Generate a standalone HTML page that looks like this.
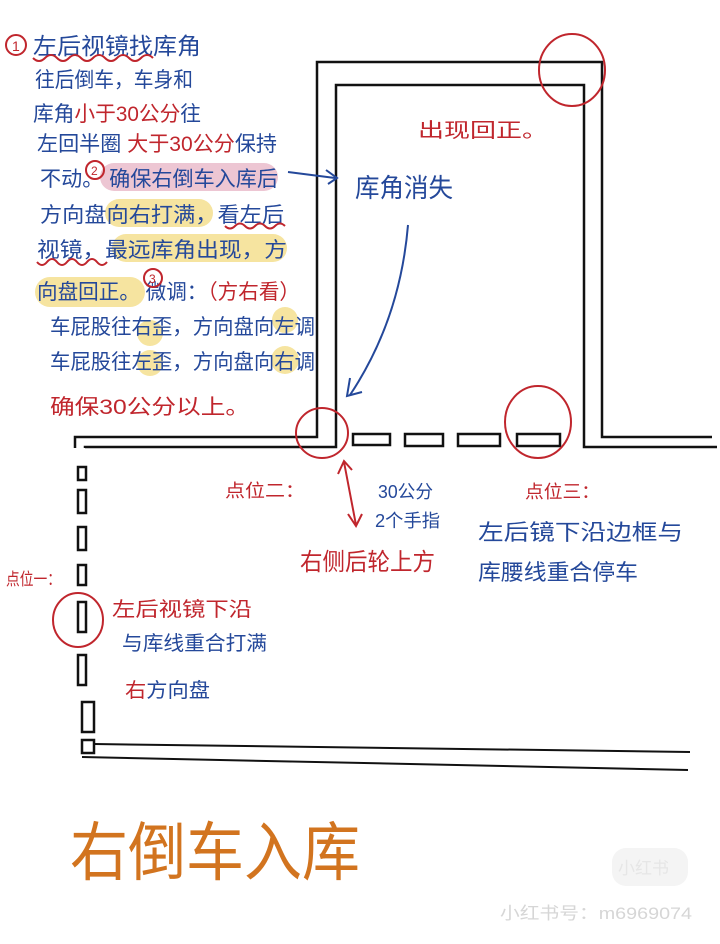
<!DOCTYPE html>
<html><head><meta charset="utf-8"><style>
html,body{margin:0;padding:0;background:#fff;width:720px;height:944px;overflow:hidden}
svg{display:block}
text{font-family:"Liberation Sans","Noto Sans CJK SC",sans-serif}
.b{fill:#24489a}.r{fill:#c0262d}
</style></head><body>
<svg width="720" height="944" viewBox="0 0 720 944" xmlns="http://www.w3.org/2000/svg">
<!-- highlights -->
<rect x="100" y="163" width="178" height="28" rx="14" fill="#e8b8c8" opacity="0.8"/>
<rect x="105" y="199" width="108" height="28" rx="14" fill="#f6e4a0"/>
<rect x="112" y="234" width="175" height="28" rx="14" fill="#f6e4a0"/>
<rect x="35" y="277" width="110" height="30" rx="15" fill="#f6e4a0"/>
<circle cx="150" cy="333" r="13" fill="#f6e4a0"/>
<circle cx="150" cy="363" r="13" fill="#f6e4a0"/>
<circle cx="285" cy="320" r="13" fill="#f6e4a0"/>
<circle cx="285" cy="360" r="14" fill="#f6e4a0"/>
<!-- left text block -->
<circle cx="16" cy="45" r="10" fill="none" stroke="#c0262d" stroke-width="2"/>
<text x="12" y="51" font-size="14" class="r">1</text>
<text x="33" y="54" font-size="23" textLength="168" lengthAdjust="spacingAndGlyphs" class="b">左后视镜找库角</text>
<path d="M33 58 q6 6 12 0 t12 0 t12 0 t12 0 t12 0 t12 0 t12 0 t12 0 t12 0 t12 0" fill="none" stroke="#c0262d" stroke-width="2"/>
<text x="35" y="87" font-size="21" textLength="158" lengthAdjust="spacingAndGlyphs" class="b">往后倒车，车身和</text>
<text x="33" y="121" font-size="21" class="b" textLength="168" lengthAdjust="spacingAndGlyphs">库角<tspan class="r">小于30公分</tspan>往</text>
<text x="37" y="151" font-size="21" class="b" textLength="240" lengthAdjust="spacingAndGlyphs">左回半圈 <tspan class="r">大于30公分</tspan>保持</text>
<text x="40" y="186" font-size="21" class="b" textLength="238" lengthAdjust="spacingAndGlyphs">不动。 确保右倒车入库后</text>
<circle cx="95" cy="170" r="9" fill="none" stroke="#c0262d" stroke-width="2"/>
<text x="91" y="175" font-size="12" class="r">2</text>
<text x="40" y="222" font-size="21" class="b" textLength="244" lengthAdjust="spacingAndGlyphs">方向盘向右打满，看左后</text>
<path d="M225 226 q5 5 10 0 t10 0 t10 0 t10 0 t10 0 t10 0" fill="none" stroke="#c0262d" stroke-width="2"/>
<text x="37" y="257" font-size="21" class="b" textLength="250" lengthAdjust="spacingAndGlyphs">视镜，最远库角出现，方</text>
<path d="M37 262 q5 6 10 0 t10 0 t10 0 t10 0 t10 0 t10 0 t10 0" fill="none" stroke="#c0262d" stroke-width="2"/>
<text x="37" y="299" font-size="21" class="b" textLength="263" lengthAdjust="spacingAndGlyphs">向盘回正。 微调：<tspan class="r">（方右看）</tspan></text>
<circle cx="153" cy="278" r="9" fill="none" stroke="#c0262d" stroke-width="2"/>
<text x="149" y="283" font-size="12" class="r">3</text>
<text x="50" y="334" font-size="21" class="b" textLength="265" lengthAdjust="spacingAndGlyphs">车屁股往右歪，方向盘向左调</text>
<text x="50" y="369" font-size="21" class="b" textLength="265" lengthAdjust="spacingAndGlyphs">车屁股往左歪，方向盘向右调</text>
<text x="50" y="414" font-size="21" class="r" textLength="200" lengthAdjust="spacingAndGlyphs">确保30公分以上。</text>
<!-- garage -->
<g fill="none" stroke="#111" stroke-width="2.5">
<path d="M75 448 L75 437 L317 437 L317 62 L602 62 L602 437 L712 437"/>
<path d="M85 448 L85 447 L336 447 L336 85 L584 85 L584 447 L717 447"/>
<rect x="353" y="434" width="37" height="11"/>
<rect x="405" y="434" width="38" height="12"/>
<rect x="458" y="434" width="42" height="12"/>
<rect x="517" y="434" width="43" height="12"/>
<rect x="78" y="467" width="8" height="13"/>
<rect x="78" y="490" width="8" height="23"/>
<rect x="78" y="527" width="8" height="23"/>
<rect x="78" y="565" width="8" height="20"/>
<rect x="78" y="602" width="8" height="30"/>
<rect x="78" y="655" width="8" height="30"/>
<rect x="82" y="702" width="12" height="30"/>
<rect x="82" y="740" width="12" height="13"/>
<path d="M94 744 L690 752" stroke-width="2"/>
<path d="M82 757 L688 770" stroke-width="2"/>
</g>
<!-- circles -->
<g fill="none" stroke="#c0262d" stroke-width="2">
<ellipse cx="572" cy="70" rx="33" ry="36"/>
<ellipse cx="322" cy="433" rx="26" ry="25"/>
<ellipse cx="538" cy="422" rx="33" ry="36"/>
<ellipse cx="78" cy="620" rx="25" ry="27"/>
</g>
<!-- right labels -->
<text x="418" y="137" font-size="20" class="r" textLength="130" lengthAdjust="spacingAndGlyphs">出现回正。</text>
<path d="M288 172 L335 178" stroke="#24489a" stroke-width="2" fill="none"/>
<path d="M326 170 L337 178 L328 184" stroke="#24489a" stroke-width="2" fill="none"/>
<text x="355" y="197" font-size="26" class="b" textLength="98" lengthAdjust="spacingAndGlyphs">库角消失</text>
<path d="M408 225 Q400 320 350 395" stroke="#24489a" stroke-width="2" fill="none"/>
<path d="M350 378 L347 396 L362 392" stroke="#24489a" stroke-width="2" fill="none"/>
<text x="225" y="497" font-size="18" class="r" textLength="80" lengthAdjust="spacingAndGlyphs">点位二：</text>
<path d="M344 462 L356 525 M338 474 L344 461 L352 470 M348 514 L356 526 L362 514" stroke="#c0262d" stroke-width="2" fill="none"/>
<text x="378" y="498" font-size="18" class="b" textLength="55" lengthAdjust="spacingAndGlyphs">30公分</text>
<text x="375" y="527" font-size="18" class="b" textLength="65" lengthAdjust="spacingAndGlyphs">2个手指</text>
<text x="300" y="570" font-size="24" class="r" textLength="135" lengthAdjust="spacingAndGlyphs">右侧后轮上方</text>
<text x="525" y="498" font-size="18" class="r" textLength="75" lengthAdjust="spacingAndGlyphs">点位三：</text>
<text x="478" y="540" font-size="22" class="b" textLength="205" lengthAdjust="spacingAndGlyphs">左后镜下沿边框与</text>
<text x="478" y="580" font-size="22" class="b" textLength="160" lengthAdjust="spacingAndGlyphs">库腰线重合停车</text>
<text x="6" y="585" font-size="17" class="r" textLength="55" lengthAdjust="spacingAndGlyphs">点位一：</text>
<text x="112" y="616" font-size="20" class="r" textLength="140" lengthAdjust="spacingAndGlyphs">左后视镜下沿</text>
<text x="122" y="650" font-size="20" class="b" textLength="145" lengthAdjust="spacingAndGlyphs">与库线重合打满</text>
<text x="125" y="697" font-size="20" class="b" textLength="85" lengthAdjust="spacingAndGlyphs"><tspan class="r">右</tspan>方向盘</text>
<!-- title -->
<text x="70" y="875" font-size="64" fill="#d2741f" textLength="290" lengthAdjust="spacingAndGlyphs">右倒车入库</text>
<rect x="612" y="848" width="76" height="38" rx="14" fill="#f4f4f4"/>
<text x="618" y="874" font-size="17" fill="#e6e6e6">小红书</text>
<text x="500" y="919" font-size="17" fill="#d6d6d6" textLength="192" lengthAdjust="spacingAndGlyphs">小红书号：m6969074</text>
</svg>
</body></html>
